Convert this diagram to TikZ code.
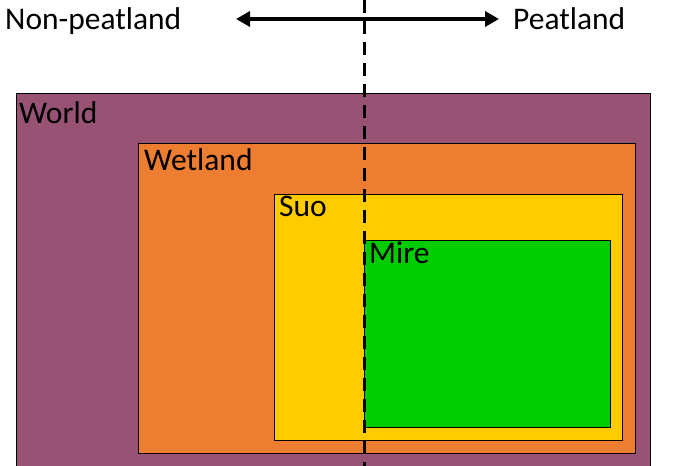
\documentclass[tikz,border=0pt]{standalone}
\usepackage{fontspec}
\setmainfont{Carlito}
\usepackage{tikz}
\usetikzlibrary{arrows.meta}
\definecolor{worldc}{RGB}{151,82,116}
\definecolor{wetlandc}{RGB}{237,125,49}
\definecolor{suoc}{RGB}{255,204,0}
\definecolor{mirec}{RGB}{0,204,0}
\tikzset{
    box/.style={draw=black,line width=0.9pt},
    lbl/.style={anchor=base west,inner sep=0pt,font=\fontsize{31.5}{36}\selectfont},
    arr/.style={{Triangle[length=14pt,width=15pt]}-{Triangle[length=14pt,width=15pt]},line width=3.5pt},
    divide/.style={line width=3pt,dash pattern=on 13pt off 8pt}
}

\begin{document}
\begin{tikzpicture}[x=1pt,y=-1pt]
    \useasboundingbox (0,0) rectangle (673,466);
    \clip (0,0) rectangle (673,466);

    % 绘制嵌套的矩形
    \draw[box,fill=worldc] (16,93) rectangle (650,480);
    \draw[box,fill=wetlandc] (138,143) rectangle (635,453);
    \draw[box,fill=suoc] (274,194) rectangle (622,440);
    \draw[box,fill=mirec] (364,240) rectangle (610,427);

    % 矩形的名称
    \node[lbl] (world) at (19,123) {World};
    \node[lbl] (wetland) at (144,170) {Wetland};
    \node[lbl] (suo) at (279,216) {Suo};
    \node[lbl] (mire) at (369,263) {Mire};

    % 上方的标注和双向箭头
    \node[lbl] (nonpeat) at (5,29) {Non-peatland};
    \node[lbl] (peat) at (513,29) {Peatland};
    \coordinate (al) at (236,19);
    \coordinate (ar) at (499,19);
    \draw[arr] (al) -- (ar);

    % 分界虚线
    \coordinate (top) at (364,0);
    \coordinate (bot) at (364,470);
    \draw[divide] (top) -- (bot);
\end{tikzpicture}
\end{document}
